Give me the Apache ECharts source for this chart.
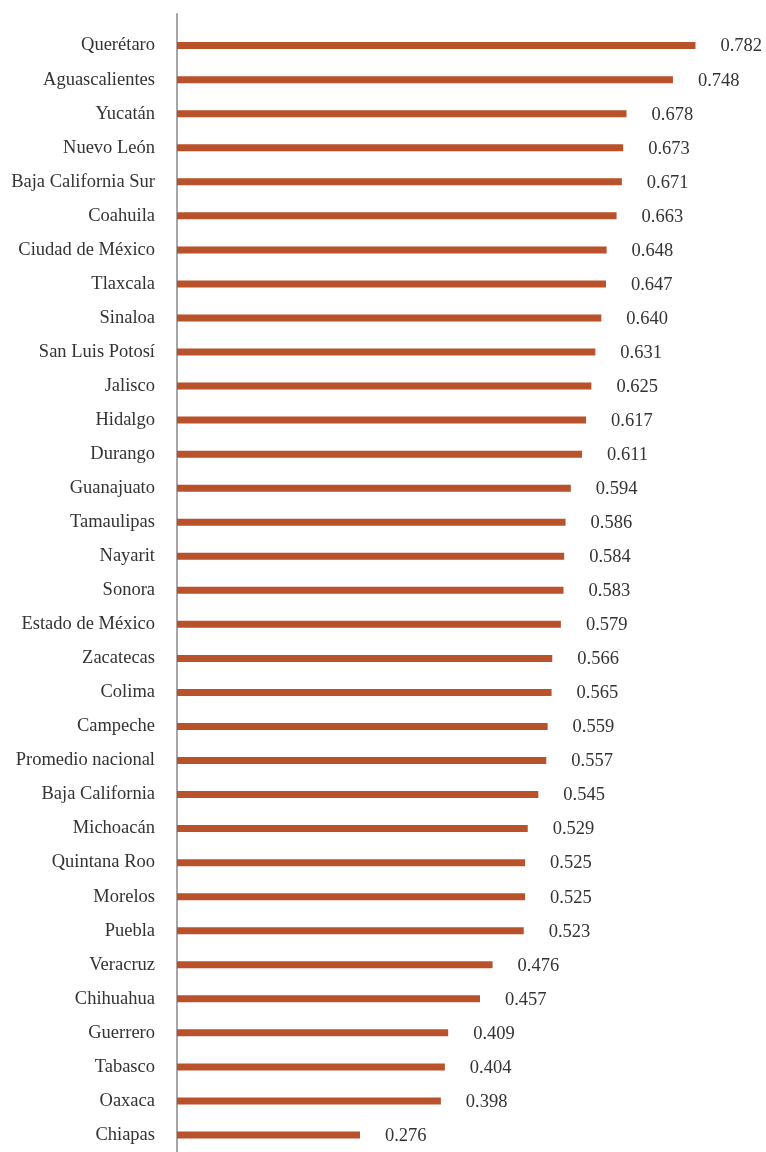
<!DOCTYPE html>
<html>
<head>
<meta charset="utf-8">
<script src="https://cdn.jsdelivr.net/npm/echarts@6/dist/echarts.min.js"></script>
<style>html,body{margin:0;padding:0;background:#fff}#c{width:766px;height:1152px}</style>
</head>
<body>
<div id="c"></div>
<script>
var categories = ["Querétaro","Aguascalientes","Yucatán","Nuevo León","Baja California Sur","Coahuila","Ciudad de México","Tlaxcala","Sinaloa","San Luis Potosí","Jalisco","Hidalgo","Durango","Guanajuato","Tamaulipas","Nayarit","Sonora","Estado de México","Zacatecas","Colima","Campeche","Promedio nacional","Baja California","Michoacán","Quintana Roo","Morelos","Puebla","Veracruz","Chihuahua","Guerrero","Tabasco","Oaxaca","Chiapas"];
var values = [0.782,0.748,0.678,0.673,0.671,0.663,0.648,0.647,0.640,0.631,0.625,0.617,0.611,0.594,0.586,0.584,0.583,0.579,0.566,0.565,0.559,0.557,0.545,0.529,0.525,0.525,0.523,0.476,0.457,0.409,0.404,0.398,0.276];

var font = "'Liberation Serif', 'DejaVu Serif', serif";
var chart = echarts.init(document.getElementById('c'));
chart.setOption({
  animation: false,
  grid: [
    {left: 177, top: 28.6, height: 1124.3, width: 530.4},
    {left: 177, top: 14, bottom: 0, width: 530.4}
  ],
  xAxis: [
    {gridIndex: 0, type: 'value', min: 0, max: 0.8, show: false},
    {gridIndex: 1, type: 'value', min: 0, max: 1, show: false}
  ],
  yAxis: [
    {gridIndex: 0, type: 'category', data: categories, inverse: true,
     axisLine: {show: false}, axisTick: {show: false},
     axisLabel: {margin: 22, fontFamily: font, fontSize: 18.5, color: '#333', padding: [6, 0, 0, 0]}},
    {gridIndex: 1, type: 'value', min: 0, max: 1,
     axisLine: {show: true, lineStyle: {color: '#a6a6a6', width: 2}},
     axisTick: {show: false}, axisLabel: {show: false}, splitLine: {show: false}}
  ],
  series: [{
    type: 'bar', xAxisIndex: 0, yAxisIndex: 0,
    data: values, barWidth: 7,
    itemStyle: {color: '#b9522a'},
    label: {show: true, position: 'right', distance: 25, offset: [0, 1],
      fontFamily: font, fontSize: 18.5, color: '#333',
      formatter: function(p){ return p.value.toFixed(3); }}
  }]
});
</script>
</body>
</html>
